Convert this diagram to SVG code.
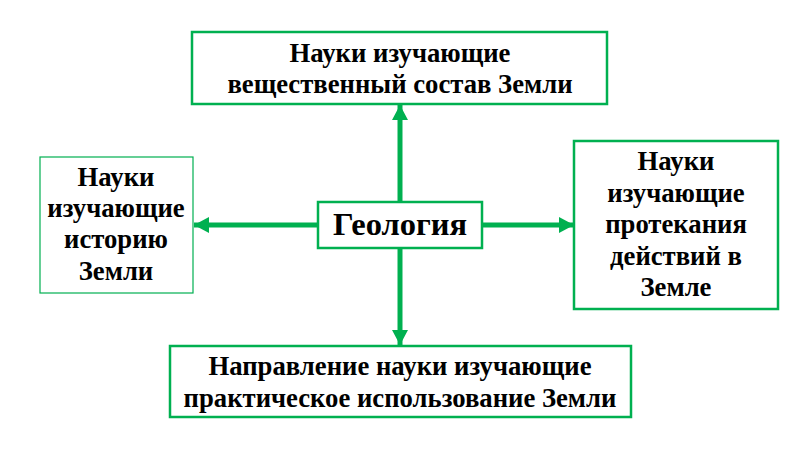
<svg xmlns="http://www.w3.org/2000/svg" width="800" height="450" viewBox="0 0 800 450">
<defs>
<style>
.box{fill:#fff;stroke:#00B050;stroke-width:2.5}
.thin{stroke-width:1.2}
.con{stroke:#00B050;stroke-width:5;fill:none}
</style>
<marker id="ah" markerUnits="userSpaceOnUse" markerWidth="16" markerHeight="18" refX="15" refY="8" orient="auto">
<path d="M0,0 L15,8 L0,16 Z" fill="#00B050"/>
</marker>
</defs>
<rect width="800" height="450" fill="#fff"/>
<g id="connectors">
<line class="con" x1="400" y1="202" x2="400" y2="105" marker-end="url(#ah)"/>
<line class="con" x1="400" y1="248" x2="400" y2="345" marker-end="url(#ah)"/>
<line class="con" x1="318" y1="225" x2="194" y2="225" marker-end="url(#ah)"/>
<line class="con" x1="482" y1="225" x2="574" y2="225" marker-end="url(#ah)"/>
</g>
<g font-family="Liberation Serif, Times New Roman, serif" font-weight="bold" font-size="26.7" fill="#000" text-anchor="middle">
<g id="top">
<rect class="box" x="192" y="32" width="415" height="72"/>
<text x="400" y="62">Науки изучающие</text>
<text x="400" y="93">вещественный состав Земли</text>
</g>
<g id="left">
<rect class="box thin" x="40" y="157" width="153" height="136"/>
<text x="116" y="186">Науки</text>
<text x="116" y="217">изучающие</text>
<text x="116" y="248">историю</text>
<text x="116" y="280">Земли</text>
</g>
<g id="center">
<rect class="box" x="318" y="202" width="164" height="46"/>
<text x="400" y="235" font-size="32.5">Геология</text>
</g>
<g id="right">
<rect class="box" x="574" y="141" width="204" height="168"/>
<text x="676" y="170">Науки</text>
<text x="676" y="202">изучающие</text>
<text x="676" y="233">протекания</text>
<text x="676" y="265">действий в</text>
<text x="676" y="296">Земле</text>
</g>
<g id="bottom">
<rect class="box" x="170" y="346" width="461" height="71"/>
<text x="400" y="375">Направление науки изучающие</text>
<text x="400" y="407">практическое использование Земли</text>
</g>
</g>
</svg>
